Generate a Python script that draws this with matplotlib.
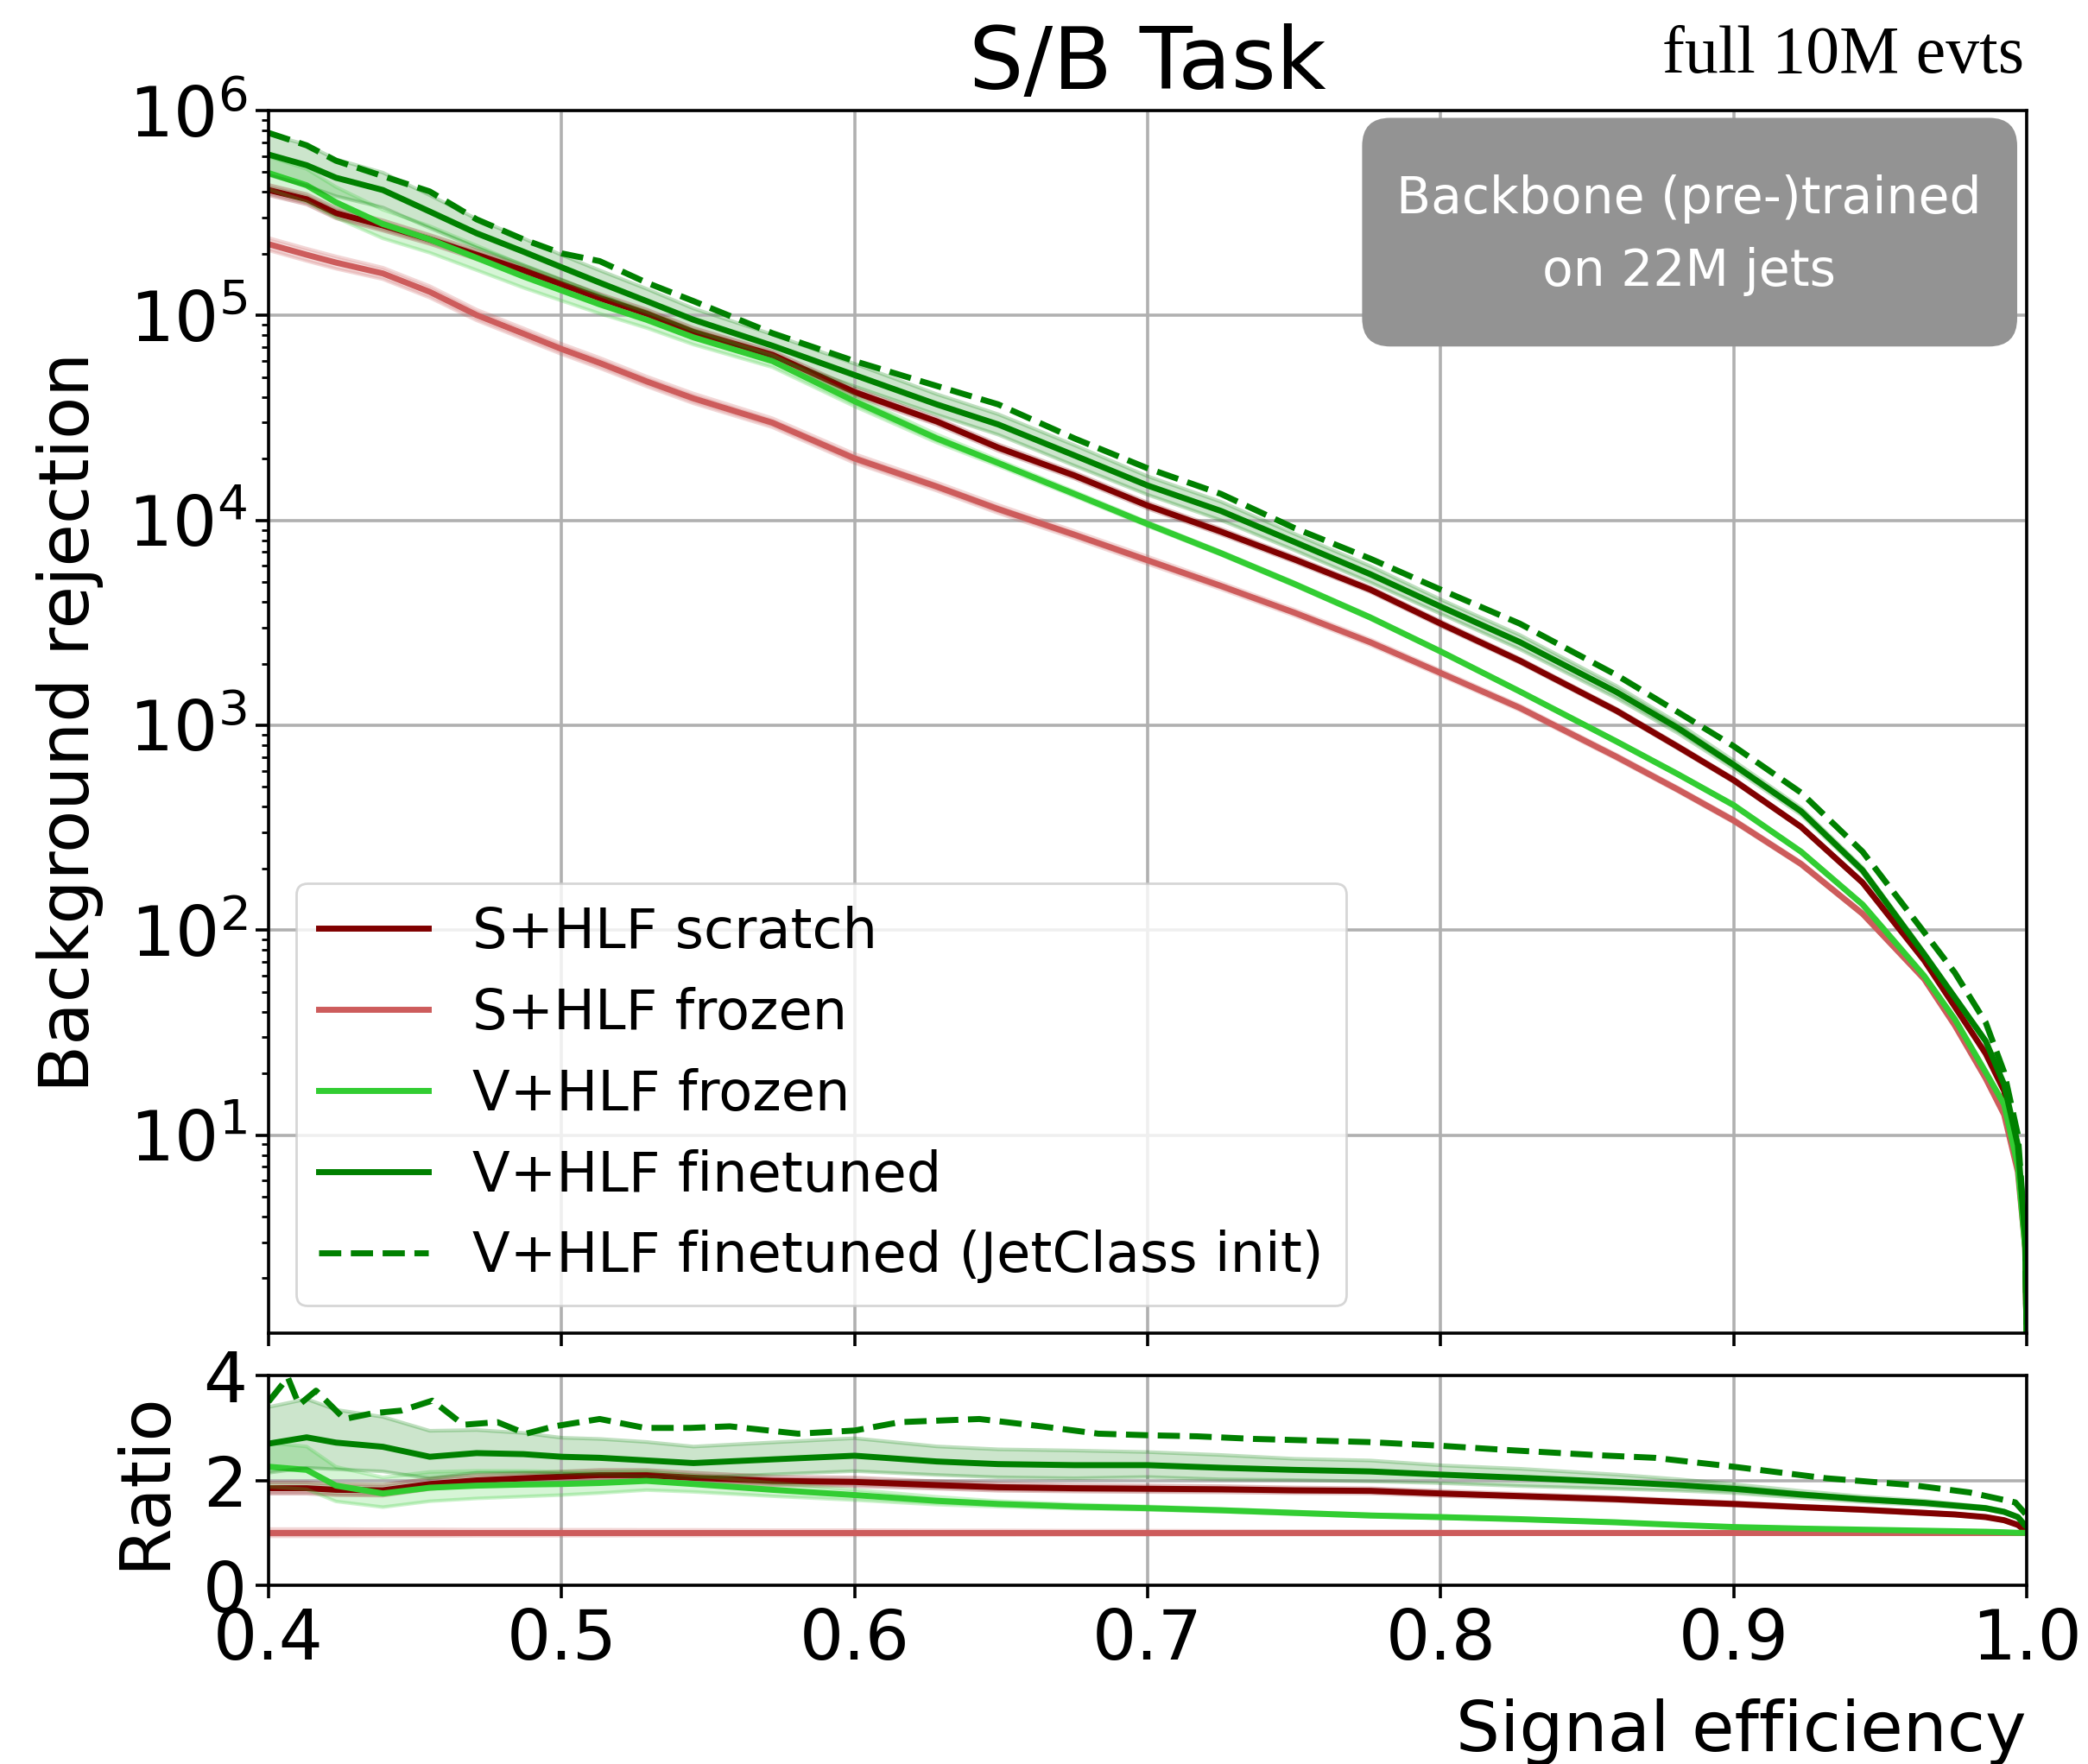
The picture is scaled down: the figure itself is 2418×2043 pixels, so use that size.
import numpy as np
import matplotlib.pyplot as plt
from matplotlib.patches import FancyBboxPatch

# ==============================
# DATA
# ==============================

# signal efficiency grid for the main panel
eff = [0.400, 0.413, 0.423, 0.439, 0.455, 0.471, 0.487, 0.500, 0.513, 0.529,
       0.545, 0.572, 0.600, 0.628, 0.649, 0.675, 0.700, 0.725, 0.750, 0.776,
       0.800, 0.827, 0.860, 0.881, 0.900, 0.923, 0.944, 0.965, 0.9755, 0.986,
       0.9923, 0.997, 0.9995, 1.000]

# log10(background rejection)
log_s_scratch = [5.612, 5.567, 5.499, 5.439, 5.371, 5.296, 5.220, 5.152, 5.085, 5.009,
                 4.919, 4.807, 4.626, 4.483, 4.355, 4.219, 4.072, 3.945, 3.810, 3.662,
                 3.496, 3.315, 3.071, 2.895, 2.732, 2.504, 2.232, 1.853, 1.626, 1.398,
                 1.216, 0.90, 0.48, 0.0]
log_s_frozen = [5.348, 5.296, 5.258, 5.205, 5.115, 5.002, 4.911, 4.836, 4.768, 4.678,
                4.595, 4.476, 4.302, 4.165, 4.055, 3.930, 3.805, 3.680, 3.550, 3.405,
                3.255, 3.085, 2.846, 2.686, 2.535, 2.323, 2.080, 1.762, 1.535, 1.277,
                1.100, 0.82, 0.45, 0.0]
log_v_frozen = [5.695, 5.635, 5.552, 5.446, 5.371, 5.281, 5.190, 5.122, 5.054, 4.979,
                4.893, 4.777, 4.581, 4.400, 4.280, 4.129, 3.982, 3.840, 3.690, 3.526,
                3.360, 3.165, 2.921, 2.761, 2.610, 2.383, 2.125, 1.777, 1.565, 1.307,
                1.150, 0.85, 0.45, 0.0]
log_v_ft = [5.785, 5.733, 5.672, 5.612, 5.507, 5.401, 5.311, 5.235, 5.160, 5.070,
            4.979, 4.852, 4.709, 4.566, 4.468, 4.317, 4.170, 4.046, 3.895, 3.737,
            3.579, 3.406, 3.162, 2.986, 2.807, 2.580, 2.292, 1.883, 1.671, 1.459,
            1.247, 0.95, 0.50, 0.0]
log_v_ft_jc = [5.891, 5.830, 5.755, 5.680, 5.605, 5.469, 5.371, 5.303, 5.265, 5.160,
               5.070, 4.913, 4.777, 4.656, 4.566, 4.400, 4.254, 4.129, 3.963, 3.813,
               3.662, 3.496, 3.245, 3.064, 2.898, 2.671, 2.383, 1.990, 1.792, 1.550,
               1.307, 1.00, 0.50, 0.0]

# half width of the shaded bands, in decades
w_s_scratch = [0.025, 0.025, 0.025, 0.025, 0.022, 0.022, 0.020, 0.020, 0.020, 0.020,
               0.020, 0.018, 0.018, 0.016, 0.016, 0.015, 0.015, 0.014, 0.013, 0.012,
               0.012, 0.011, 0.010, 0.010, 0.009, 0.008, 0.008, 0.007, 0.006, 0.006,
               0.005, 0.005, 0.004, 0.004]
w_s_frozen = [0.030, 0.030, 0.030, 0.028, 0.028, 0.026, 0.026, 0.025, 0.025, 0.024,
              0.024, 0.022, 0.022, 0.020, 0.020, 0.018, 0.018, 0.016, 0.015, 0.014,
              0.013, 0.012, 0.011, 0.010, 0.010, 0.009, 0.008, 0.007, 0.006, 0.006,
              0.005, 0.005, 0.004, 0.004]
w_v_frozen = [0.080, 0.080, 0.075, 0.070, 0.065, 0.060, 0.055, 0.050, 0.045, 0.040,
              0.035, 0.030, 0.025, 0.020, 0.015, 0.012, 0.010, 0.008, 0.008, 0.007,
              0.007, 0.006, 0.006, 0.005, 0.005, 0.005, 0.004, 0.004, 0.004, 0.003,
              0.003, 0.003, 0.003, 0.003]
w_v_ft = [0.100, 0.100, 0.090, 0.085, 0.080, 0.070, 0.065, 0.060, 0.060, 0.060,
          0.055, 0.055, 0.055, 0.050, 0.050, 0.050, 0.045, 0.045, 0.040, 0.040,
          0.035, 0.035, 0.030, 0.025, 0.020, 0.017, 0.014, 0.012, 0.010, 0.008,
          0.007, 0.006, 0.005, 0.005]

# ratio to S+HLF frozen (same grid as eff)
ratio_s_scratch = [1.85, 1.85, 1.82, 1.81, 1.93, 2.00, 2.04, 2.07, 2.10, 2.10,
                   2.05, 1.99, 1.97, 1.91, 1.87, 1.85, 1.84, 1.83, 1.81, 1.80,
                   1.75, 1.70, 1.64, 1.59, 1.55, 1.49, 1.44, 1.38, 1.35, 1.30,
                   1.24, 1.15, 1.04, 1.02]
ratio_v_frozen = [2.26, 2.20, 1.90, 1.75, 1.86, 1.90, 1.92, 1.93, 1.95, 1.99,
                  1.93, 1.82, 1.72, 1.61, 1.55, 1.50, 1.47, 1.43, 1.38, 1.33,
                  1.30, 1.26, 1.20, 1.15, 1.11, 1.08, 1.06, 1.04, 1.03, 1.02,
                  1.01, 1.00, 1.00, 1.00]
ratio_v_ft = [2.70, 2.82, 2.72, 2.64, 2.45, 2.52, 2.50, 2.45, 2.43, 2.38,
              2.33, 2.40, 2.47, 2.36, 2.31, 2.29, 2.29, 2.24, 2.20, 2.17,
              2.11, 2.05, 1.97, 1.91, 1.84, 1.73, 1.64, 1.57, 1.52, 1.47,
              1.40, 1.30, 1.14, 1.12]

# the JetClass-init ratio is noisier, read on its own grid
eff_jc_ratio = [0.400, 0.4066, 0.4104, 0.4162, 0.4259, 0.4356, 0.4453, 0.4559, 0.4665, 0.4781,
                0.4878, 0.4975, 0.513, 0.5284, 0.5439, 0.5574, 0.5807, 0.600, 0.6155, 0.6426,
                0.6638, 0.6832, 0.700, 0.7168, 0.7363, 0.7559, 0.7754, 0.800, 0.8223, 0.8535,
                0.873, 0.900, 0.9316, 0.9609, 0.9805, 0.9961, 0.9996]
ratio_v_ft_jc = [3.50, 3.96, 3.44, 3.71, 3.17, 3.28, 3.33, 3.52, 3.06, 3.11,
                 2.89, 3.03, 3.17, 3.00, 3.00, 3.03, 2.89, 2.95, 3.11, 3.17,
                 3.03, 2.89, 2.86, 2.84, 2.79, 2.76, 2.73, 2.66, 2.58, 2.48,
                 2.43, 2.26, 2.04, 1.91, 1.77, 1.58, 1.36]

labels = ["S+HLF scratch", "S+HLF frozen", "V+HLF frozen",
          "V+HLF finetuned", "V+HLF finetuned (JetClass init)"]
colors = ["#800000", "#cd5c5c", "#32cd32", "#008000", "#008000"]

x_ticks = [0.4, 0.5, 0.6, 0.7, 0.8, 0.9, 1.0]

# ==============================
# FIGURE
# ==============================

plt.rcParams['font.family'] = 'DejaVu Sans'
plt.rcParams['axes.linewidth'] = 1.3

W, H, DPI = 2418, 2043, 200
fig = plt.figure(figsize=(W / DPI, H / DPI), dpi=DPI)
ax = fig.add_axes([311 / W, 1 - 1544 / H, 2036 / W, (1544 - 128) / H])
axr = fig.add_axes([311 / W, 1 - 1836 / H, 2036 / W, (1836 - 1593) / H], sharex=ax)

eff_a = np.array(eff)
main = [(log_s_scratch, w_s_scratch, "-"),
        (log_s_frozen, w_s_frozen, "-"),
        (log_v_frozen, w_v_frozen, "-"),
        (log_v_ft, w_v_ft, "-"),
        (log_v_ft_jc, None, "--")]

for (logv, w, ls), lab, col in zip(main, labels, colors):
    y = 10 ** np.array(logv)
    if w is not None:
        lo = y * 10 ** (-np.array(w))
        hi = y * 10 ** np.array(w)
        ax.fill_between(eff_a, lo, hi, color=col, alpha=0.2, lw=0)
        ax.plot(eff_a, lo, color=col, alpha=0.25, lw=1.5)
        ax.plot(eff_a, hi, color=col, alpha=0.25, lw=1.5)
    ax.plot(eff_a, y, color=col, ls=ls, lw=2.5, label=lab)

# ratio panel
base = 10 ** np.array(log_s_frozen)
ratios = [(np.array(ratio_s_scratch), w_s_scratch),
          (base / base, w_s_frozen),
          (np.array(ratio_v_frozen), w_v_frozen),
          (np.array(ratio_v_ft), w_v_ft)]
for (r, w), col in zip(ratios, colors[:4]):
    lo = r * 10 ** (-np.array(w))
    hi = r * 10 ** np.array(w)
    axr.fill_between(eff_a, lo, hi, color=col, alpha=0.2, lw=0)
    axr.plot(eff_a, lo, color=col, alpha=0.25, lw=1.5)
    axr.plot(eff_a, hi, color=col, alpha=0.25, lw=1.5)
    axr.plot(eff_a, r, color=col, lw=2.5)
axr.plot(eff_jc_ratio, ratio_v_ft_jc, color=colors[4], ls="--", lw=2.5)

# axes styling
ax.set_yscale('log')
ax.set_ylim(1.08, 1e6)
ax.set_xlim(0.4, 1.0)
axr.set_ylim(0, 4)
axr.set_yticks([0, 2, 4])
axr.set_xticks(x_ticks)

for a in (ax, axr):
    a.tick_params(which='major', direction='out', length=5.5, width=1.3, labelsize=29)
    a.tick_params(which='minor', direction='out', length=3, width=1.0)
    a.grid(True, which='major', color='#b0b0b0', lw=1.3)
ax.tick_params(labelbottom=False)

ax.set_ylabel("Background rejection", fontsize=29, labelpad=10)
axr.set_ylabel("Ratio", fontsize=29, labelpad=10)
axr.set_xlabel("Signal efficiency", fontsize=29, loc='right', labelpad=10)

ax.set_title("S/B Task", fontsize=36, pad=9)
fig.text(2344 / W, 1 - 84 / H, "full 10M evts", ha='right', va='baseline',
         fontsize=28, family='Liberation Serif')

ax.legend(loc='lower left', fontsize=23)

# grey info box
box = FancyBboxPatch((0.622, 0.807), 0.3726, 0.187,
                     boxstyle='round,pad=0,rounding_size=0.016',
                     mutation_aspect=2036 / 1416, transform=ax.transAxes,
                     facecolor='#939393', edgecolor='none', zorder=5)
ax.add_patch(box)
ax.text(0.808, 0.898, "Backbone (pre-)trained\non 22M jets", transform=ax.transAxes,
        ha='center', va='center', color='white', fontsize=21, linespacing=1.6, zorder=6)

fig.savefig('out.png', dpi=DPI)
